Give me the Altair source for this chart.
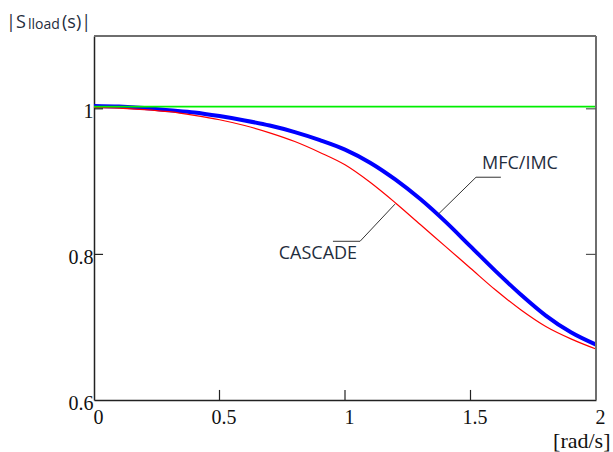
import altair as alt
import pandas as pd

# frequency grid [rad/s]
freq = [0.0, 0.1, 0.2, 0.3, 0.4, 0.5, 0.6, 0.7, 0.8, 0.9, 1.0,
        1.1, 1.2, 1.3, 1.4, 1.5, 1.6, 1.7, 1.8, 1.9, 2.0]
mfc_imc = [1.004, 1.003, 1.001, 0.998, 0.995, 0.990, 0.984, 0.977, 0.968, 0.957, 0.944,
           0.926, 0.903, 0.876, 0.845, 0.811, 0.777, 0.745, 0.716, 0.693, 0.676]
cascade = [1.002, 1.001, 0.999, 0.996, 0.991, 0.985, 0.977, 0.967, 0.955, 0.940, 0.923,
           0.899, 0.871, 0.841, 0.811, 0.781, 0.751, 0.724, 0.701, 0.684, 0.670]
reference = [1.003] * len(freq)

x_ticks = [0, 0.5, 1, 1.5, 2]
y_ticks = [0.6, 0.8, 1.0]

# annotation anchors (data coords)
lbl_names = ["MFC/IMC", "CASCADE"]
lbl_x = [1.697, 0.892]
lbl_y = [0.924, 0.800]
lead_mfc_x = [1.371, 1.522, 1.621]
lead_mfc_y = [0.855, 0.906, 0.906]
lead_cas_x = [1.199, 1.060, 0.952]
lead_cas_y = [0.869, 0.818, 0.818]

XD = [0, 2]
YD = [0.6, 1.1]
TXT = "#1f2d3d"

curves = pd.DataFrame({"x": freq, "mfc": mfc_imc, "cas": cascade, "ref": reference})

xs = alt.Scale(domain=XD, nice=False, zero=False)
ys = alt.Scale(domain=YD, nice=False, zero=False)

xax = alt.Axis(values=x_ticks, format="~g", grid=False, ticks=False, domain=True,
               domainColor="#222222", domainWidth=1.5, labelFont="Liberation Serif",
               labelFontSize=20, labelColor="#111111", labelPadding=7, labelFlush=False,
               labelOffset=4, title="[rad/s]", titleFont="Liberation Serif",
               titleFontSize=22, titleFontWeight="normal", titleColor="#111111",
               titleAlign="right", titleBaseline="alphabetic", titleAnchor="end",
               titleX=516, titleY=47)
yax = alt.Axis(values=y_ticks, format="~g", grid=False, ticks=False, domain=True,
               domainColor="#222222", domainWidth=1.5, labelFont="Liberation Serif",
               labelFontSize=20, labelColor="#111111", labelPadding=1, labelOffset=3,
               title=None)

base = alt.Chart(curves)

blue = base.mark_line(color="#0000ff", strokeWidth=4, interpolate="monotone").encode(
    x=alt.X("x:Q", scale=xs, axis=xax), y=alt.Y("mfc:Q", scale=ys, axis=yax))
red = base.mark_line(color="#ff0000", strokeWidth=1.2, interpolate="monotone").encode(
    x=alt.X("x:Q", scale=xs), y=alt.Y("cas:Q", scale=ys))
green = base.mark_line(color="#00ee00", strokeWidth=1.8).encode(
    x=alt.X("x:Q", scale=xs), y=alt.Y("ref:Q", scale=ys))

# frame top & right (gray)
frame_top = alt.Chart(pd.DataFrame({"x": [XD[0]], "x2": [XD[1]], "y": [YD[1]]})).mark_rule(
    color="#6e6e6e", strokeWidth=2).encode(
    x=alt.X("x:Q", scale=xs), x2="x2:Q", y=alt.Y("y:Q", scale=ys))
frame_right = alt.Chart(pd.DataFrame({"x": [XD[1]], "y": [YD[0]], "y2": [YD[1]]})).mark_rule(
    color="#6e6e6e", strokeWidth=2).encode(
    x=alt.X("x:Q", scale=xs), y=alt.Y("y:Q", scale=ys), y2="y2:Q")

# inner ticks
xt = pd.DataFrame({"x": x_ticks[1:-1], "y": [YD[0]] * 3, "y2": [YD[0] + 0.0138] * 3})
xtick = alt.Chart(xt).mark_rule(color="#222222", strokeWidth=1.2).encode(
    x=alt.X("x:Q", scale=xs), y=alt.Y("y:Q", scale=ys), y2="y2:Q")
yt = pd.DataFrame({"x": [XD[0]] * 2, "x2": [XD[0] + 0.036] * 2, "y": [0.8, 1.0]})
ytick = alt.Chart(yt).mark_rule(color="#222222", strokeWidth=1.2).encode(
    x=alt.X("x:Q", scale=xs), x2="x2:Q", y=alt.Y("y:Q", scale=ys))
yt2 = pd.DataFrame({"x": [XD[1] - 0.04] * 2, "x2": [XD[1]] * 2, "y": [0.8, 1.0]})
ytick2 = alt.Chart(yt2).mark_rule(color="#555555", strokeWidth=1.2).encode(
    x=alt.X("x:Q", scale=xs), x2="x2:Q", y=alt.Y("y:Q", scale=ys))

# leader lines
lead = pd.DataFrame({
    "x": lead_mfc_x + lead_cas_x,
    "y": lead_mfc_y + lead_cas_y,
    "g": ["m"] * 3 + ["c"] * 3,
    "o": [0, 1, 2] * 2,
})
leaders = alt.Chart(lead).mark_line(color="#333333", strokeWidth=1).encode(
    x=alt.X("x:Q", scale=xs), y=alt.Y("y:Q", scale=ys), detail="g:N", order="o:Q")

labels = alt.Chart(pd.DataFrame({"t": lbl_names, "x": lbl_x, "y": lbl_y})).mark_text(
    font="Open Sans", fontSize=18, color=TXT, align="center", baseline="middle").encode(
    x=alt.X("x:Q", scale=xs), y=alt.Y("y:Q", scale=ys), text="t:N")

# title |S_lload(s)|
t1 = alt.Chart(pd.DataFrame({"t": ["|S"]})).mark_text(
    font="Open Sans", fontSize=18, color=TXT, align="left", baseline="alphabetic").encode(
    x=alt.value(-88), y=alt.value(-8), text="t:N")
t2 = alt.Chart(pd.DataFrame({"t": ["lload"]})).mark_text(
    font="Open Sans", fontSize=14, color=TXT, align="left", baseline="alphabetic").encode(
    x=alt.value(-66), y=alt.value(-7), text="t:N")
t3 = alt.Chart(pd.DataFrame({"t": ["(s)|"]})).mark_text(
    font="Open Sans", fontSize=18, color=TXT, align="left", baseline="alphabetic").encode(
    x=alt.value(-32), y=alt.value(-8), text="t:N")

chart = alt.layer(
    blue, red, green, frame_top, frame_right, xtick, ytick, ytick2, leaders, labels, t1, t2, t3
).properties(
    width=502, height=364,
    autosize=alt.AutoSizeParams(type="none"),
    padding={"left": 94, "top": 36, "right": 17, "bottom": 52},
    background="white",
).configure_view(stroke=None)

chart.save("out.html", embed_options={"renderer": "svg", "actions": False})
